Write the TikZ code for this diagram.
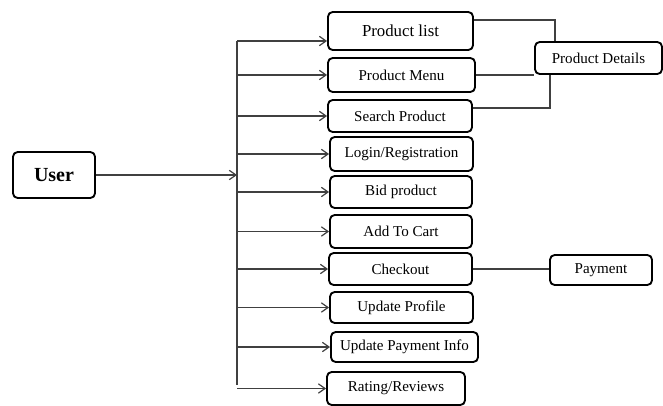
\documentclass[tikz,border=0pt]{standalone}
\usepackage{fontspec}
\setmainfont{Liberation Serif}
\usetikzlibrary{arrows.meta}
\begin{document}
\begin{tikzpicture}[x=0.75pt,y=-0.75pt,
  box/.style={draw,line width=1.4pt,rounded corners=3.5pt,inner sep=0pt,font=\fontsize{11.3}{13}\selectfont},
  link/.style={draw=black!75,line width=0.9pt},
  arr/.style={link,-{Straight Barb[length=5pt,width=7pt]}}]
\useasboundingbox (0,0) rectangle (663,406);
% User box
\node[box,minimum width=61.5pt,minimum height=34.5pt,font=\fontsize{15}{18}\selectfont\bfseries] (user) at (54,175) {User};
% Function boxes
\node[box,minimum width=108.75pt,minimum height=28.5pt,font=\fontsize{12.6}{15}\selectfont] (pl) at (400.5,31) {Product list};
\node[box,minimum width=110.25pt,minimum height=25.5pt] (pm) at (401.5,75) {Product Menu};
\node[box,minimum width=108pt,minimum height=24pt] (sp) at (400,116) {Search Product};
\node[box,minimum width=107.25pt,minimum height=25.5pt] (lr) at (401.5,154) {Login/Registration};
\node[box,minimum width=106.5pt,minimum height=24pt] (bp) at (401,192) {Bid product};
\node[box,minimum width=106.5pt,minimum height=24.75pt] (ac) at (401,231.5) {Add To Cart};
\node[box,minimum width=107.25pt,minimum height=24pt] (ck) at (400.5,269) {Checkout};
\node[box,minimum width=107.25pt,minimum height=23.25pt] (up) at (401.5,307.5) {Update Profile};
\node[box,minimum width=110.25pt,minimum height=22.5pt] (upi) at (404.5,347) {Update Payment Info};
\node[box,minimum width=103.5pt,minimum height=24.75pt] (rr) at (396,388.5) {Rating/Reviews};
% Side boxes
\node[box,minimum width=95.25pt,minimum height=24pt] (pd) at (598.5,58) {Product Details};
\node[box,minimum width=76.5pt,minimum height=22.5pt] (pay) at (601,270) {Payment};
% Vertical bus
\coordinate (bustop) at (237,41);
\coordinate (busbot) at (237,385);
\draw[link] (bustop) -- (busbot);
% User to bus
\draw[arr] (user.east) -- (bustop |- user.east);
% Bus to boxes
\draw[arr] (bustop) -- (bustop -| pl.west);
\foreach \n in {pm,sp,lr,bp,ac,ck,up,upi,rr}
  \draw[arr] (bustop |- \n.west) -- (\n.west);
% Links on the right
\draw[link] ([yshift=8.25pt]pl.east) -| ([xshift=15.75pt]pd.north west);
\draw[link] (pm.east) -- (pm.east -| pd.west);
\draw[link] ([yshift=6pt]sp.east) -| ([xshift=12pt]pd.south west);
\draw[link] (ck.east) -- (ck.east -| pay.west);
\end{tikzpicture}
\end{document}
